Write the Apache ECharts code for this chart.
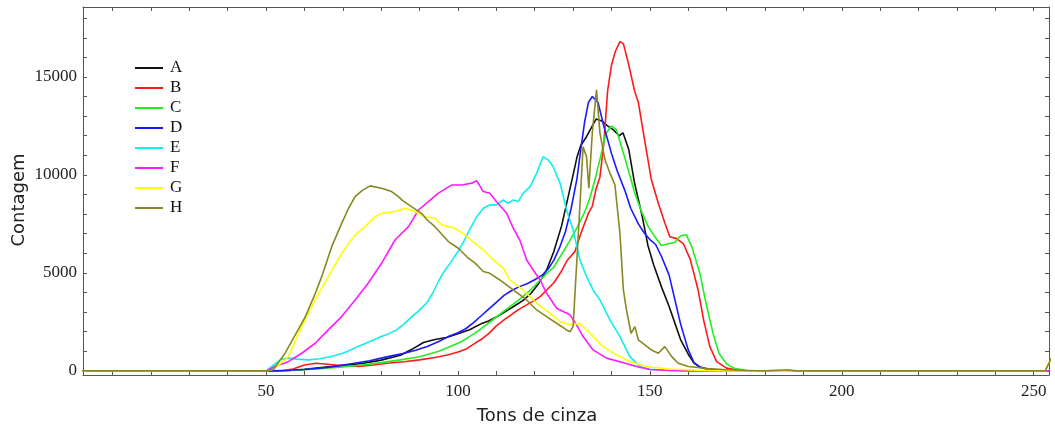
<!DOCTYPE html>
<html lang="pt">
  <head>
    <meta charset="UTF-8" />
    <title>Histograma - tons de cinza</title>
    <script src="https://cdn.jsdelivr.net/npm/echarts@6/dist/echarts.min.js"></script>
  </head>
  <body style="margin: 0; background: #fff">
    <div id="container" style="width: 1055px; height: 434px"></div>
    <script>
      // legenda / nomes das series
      const seriesNames = ["A", "B", "C", "D", "E", "F", "G", "H"];
      const seriesColors = ["#111111", "#ff1a1a", "#22ee22", "#1a1aff", "#11eeee", "#ff1aff", "#ffff00", "#888822"];

      // marcas dos eixos
      const xLabels = [50, 100, 150, 200, 250];
      const xTicks = [10, 20, 30, 40, 50, 60, 70, 80, 90, 100, 110, 120, 130, 140, 150, 160, 170, 180, 190, 200, 210, 220, 230, 240, 250];
      const yLabels = [0, 5000, 10000, 15000];
      const yTicks = [0, 1000, 2000, 3000, 4000, 5000, 6000, 7000, 8000, 9000, 10000, 11000, 12000, 13000, 14000, 15000, 16000, 17000, 18000];

      // contagem por tom de cinza
      const dataA = [[1,0],[52,0],[56,20],[60,80],[65,180],[70,280],[75,380],[80,550],[85,800],[88,1100],[91,1450],[94,1600],[97,1700],[100,1900],[103,2100],[106,2400],[108,2550],[110,2750],[113,3100],[115,3350],[117,3600],[119,3950],[121,4450],[123,5100],[125,6100],[127,7400],[128.5,8700],[130,10000],[131,10900],[132,11500],[133.5,11950],[135,12500],[136,12850],[137.5,12750],[139,12500],[140.5,12300],[142,12000],[143,12150],[144.5,11300],[146,9600],[148,7900],[149.5,6400],[151,5400],[153,4300],[155,3300],[156.5,2450],[158,1600],[160,850],[161.5,400],[163,200],[165,90],[168,30],[172,0],[254,0]];
      const dataB = [[1,0],[54,0],[57,100],[60,300],[63,390],[66,340],[70,260],[74,230],[78,300],[82,400],[86,470],[90,560],[94,680],[97.5,820],[100,960],[102,1100],[104,1350],[106,1600],[108,1900],[110,2300],[112,2600],[114.4,2940],[116,3150],[118,3380],[120,3600],[121.5,3800],[123,4100],[125,4500],[127,5100],[128.5,5650],[130.5,6100],[132,7000],[134,8050],[135,8400],[136,9300],[137,9900],[138,11600],[139,14300],[140,15600],[141,16300],[142.2,16800],[143.1,16700],[144.4,15700],[146,14300],[147,13700],[148.7,11700],[150.4,9750],[152.2,8550],[154,7500],[155.2,6850],[157,6750],[158.7,6500],[160.5,5700],[161.7,4800],[162.6,4100],[164,2600],[165.6,1250],[167.4,470],[170,140],[173,30],[176,0],[254,0]];
      const dataC = [[1,0],[52,0],[56,20],[60,60],[65,130],[70,200],[75,300],[80,420],[85,560],[90,720],[95,1000],[98,1250],[101,1500],[103,1750],[105,2000],[107,2300],[110,2750],[113,3200],[115,3500],[117,3800],[119,4150],[121,4550],[123,4950],[125,5300],[127,5950],[129,6600],[131,7300],[133,8100],[134.5,8900],[136,10000],[137.5,11200],[138.5,12100],[140,12500],[141.3,12300],[142.6,11450],[144.4,10250],[146,9100],[148,8050],[149.6,7350],[151.3,6850],[153,6400],[155,6500],[156.5,6550],[158,6900],[159.5,6950],[161,6300],[163,5000],[164.8,3300],[166.5,1900],[168,900],[170,350],[172,130],[175,30],[178,0],[254,0]];
      const dataD = [[1,0],[52,0],[56,30],[60,70],[64,135],[68,230],[73,390],[77,520],[80,650],[83,780],[86,900],[89,1050],[92,1250],[95,1500],[97.5,1750],[100,1950],[102,2150],[104,2450],[106,2800],[108,3150],[110,3500],[112,3850],[114,4100],[116,4300],[118,4450],[120,4650],[122,4900],[123.5,5200],[125,5650],[126.5,6300],[128,7100],[129.5,8300],[131,9800],[132,11300],[133,12700],[134,13700],[135,14000],[136.5,13700],[138,12500],[140,11100],[141.5,10200],[143.5,9200],[145,8300],[147,7500],[148.5,7050],[150,6700],[151.5,6450],[153,5850],[155,4900],[156.5,3650],[158,2400],[160,1070],[161.5,420],[163,200],[165,90],[168,30],[172,0],[254,0]];
      const dataE = [[1,0],[50,0],[52,300],[54,600],[56,650],[58,600],[61,560],[64,620],[67,730],[70,900],[72,1070],[74,1250],[76,1410],[78,1580],[80,1750],[82,1900],[84,2090],[86,2400],[88,2770],[90,3100],[92,3500],[93.5,4000],[95,4600],[96.5,5100],[98,5500],[99.7,6000],[101.5,6600],[103,7200],[104.9,7870],[106.6,8300],[108.3,8470],[110,8470],[111.8,8720],[113.1,8550],[114.4,8720],[115.7,8640],[117,9070],[118.8,9400],[120.5,10090],[122.2,10930],[123.5,10770],[124.8,10420],[126.6,9580],[128.3,8210],[130,7190],[131.8,5660],[133.5,4810],[135.2,4130],[137,3620],[139.6,2600],[142.2,1750],[144.8,730],[147.4,220],[150,80],[155,20],[160,0],[254,0]];
      const dataF = [[1,0],[50,0],[52.3,220],[55.8,470],[59.3,900],[62.8,1410],[66.2,2090],[69.7,2770],[73.2,3620],[76.6,4470],[80.1,5490],[83.6,6680],[87.1,7360],[89.7,8210],[92.3,8640],[94.9,9070],[98.4,9490],[101,9490],[103.6,9580],[104.9,9700],[106.6,9150],[108.3,9070],[110,8640],[112.7,8040],[114.4,7280],[116.1,6680],[117.9,5660],[119.6,5150],[121.4,4640],[123.1,3960],[125.7,3200],[127.4,3030],[129.2,2860],[130.9,2350],[132.6,1750],[135.2,1070],[138.7,650],[142.2,470],[146.5,220],[150,70],[155,20],[160,0],[254,0]];
      const dataG = [[1,0],[50,0],[52,80],[55.8,730],[59.3,2260],[62.8,3620],[66.2,4810],[69.7,6000],[73.2,6940],[75.8,7360],[78.4,7870],[80.1,8040],[83.6,8130],[86.2,8300],[88.8,8130],[91.4,7870],[94,7790],[95.8,7450],[99.2,7280],[101.8,6940],[104.4,6510],[106.6,6170],[109.2,5660],[111.8,5240],[113.5,4640],[117,4130],[120.5,3450],[124,2940],[126.6,2520],[129.2,2350],[131.8,2430],[134.4,1920],[137.8,1240],[141.3,820],[144.8,470],[149.1,220],[155,100],[162,40],[170,0],[253,0],[255,800]];
      const dataH = [[1,0],[50,0],[52,100],[55,920],[57.5,1800],[60.2,2750],[62.5,3800],[64.5,4810],[67.1,6340],[69.7,7530],[71.5,8300],[73.2,8890],[75,9200],[77.1,9440],[80.1,9320],[82.7,9150],[84.5,8890],[85.5,8700],[87.9,8380],[90.5,8040],[92,7700],[94,7360],[97.5,6600],[100.1,6260],[102.7,5750],[104.4,5510],[106.6,5070],[108.3,4980],[110.9,4640],[114.4,4130],[117.9,3620],[120.5,3110],[123.1,2770],[125.7,2430],[128.3,2090],[129.2,2000],[130,2260],[131.8,8500],[132.6,11440],[133.5,10930],[134.1,9320],[135,12130],[136.1,14340],[137,12130],[138.3,10770],[139.6,10090],[140.9,9490],[142.2,7030],[143.1,4130],[143.9,3110],[145.1,1920],[146.1,2260],[147,1580],[150.4,1070],[152.2,900],[153.9,1240],[155.7,730],[157.4,390],[160,220],[165,120],[170,60],[175,20],[180,0],[186,60],[188,0],[253,0],[255,800]];
      const allData = [dataA, dataB, dataC, dataD, dataE, dataF, dataG, dataH];

      const serifFont = "Liberation Serif";
      const sansFont = "DejaVu Sans";
      const frameColor = "#555";

      let chart = echarts.init(document.getElementById("container"));

      function frameAxis(pos, ticks, labels, extra) {
        return Object.assign({
          type: "value",
          position: pos,
          axisLine: { show: true, onZero: false, lineStyle: { color: frameColor, width: 1 } },
          axisTick: { show: true, inside: true, length: 4, customValues: ticks, lineStyle: { color: frameColor } },
          axisLabel: labels
            ? { show: true, customValues: labels, formatter: v => String(v), fontFamily: serifFont, fontSize: 17, color: "#222", margin: pos === "bottom" ? 8 : 6 }
            : { show: false },
          splitLine: { show: false }
        }, extra);
      }

      let option = {
        animation: false,
        backgroundColor: "#fff",
        grid: { left: 83, right: 6, top: 7, bottom: 59, outerBoundsMode: "none" },
        legend: {
          orient: "vertical",
          left: 130,
          top: 53,
          icon: "rect",
          itemWidth: 28,
          itemHeight: 2,
          itemGap: 0,
          data: seriesNames,
          textStyle: { fontFamily: serifFont, fontSize: 17, color: "#111", lineHeight: 20, padding: [0, 0, 0, 2] }
        },
        xAxis: [
          frameAxis("bottom", xTicks, xLabels, {
            min: 2.3, max: 254,
            name: "Tons de cinza",
            nameLocation: "middle",
            nameGap: 32,
            nameMoveOverlap: false,
            nameTextStyle: { fontFamily: sansFont, fontSize: 18, color: "#222", padding: [0, 58, 0, 0] }
          }),
          frameAxis("top", xTicks, null, { min: 2.3, max: 254 })
        ],
        yAxis: [
          frameAxis("left", yTicks, yLabels, {
            min: -210, max: 18570,
            name: "Contagem",
            nameLocation: "middle",
            nameRotate: 90,
            nameGap: 55,
            nameMoveOverlap: false,
            nameTextStyle: { fontFamily: sansFont, fontSize: 18, color: "#222", padding: [0, 18, 0, 0] }
          }),
          frameAxis("right", yTicks, null, { min: -210, max: 18570 })
        ],
        series: seriesNames.map((name, i) => ({
          name: name,
          type: "line",
          xAxisIndex: 0,
          yAxisIndex: 0,
          symbol: "none",
          data: allData[i],
          lineStyle: { color: seriesColors[i], width: 1.6 },
          itemStyle: { color: seriesColors[i] }
        }))
      };

      chart.setOption(option);
    </script>
  </body>
</html>
